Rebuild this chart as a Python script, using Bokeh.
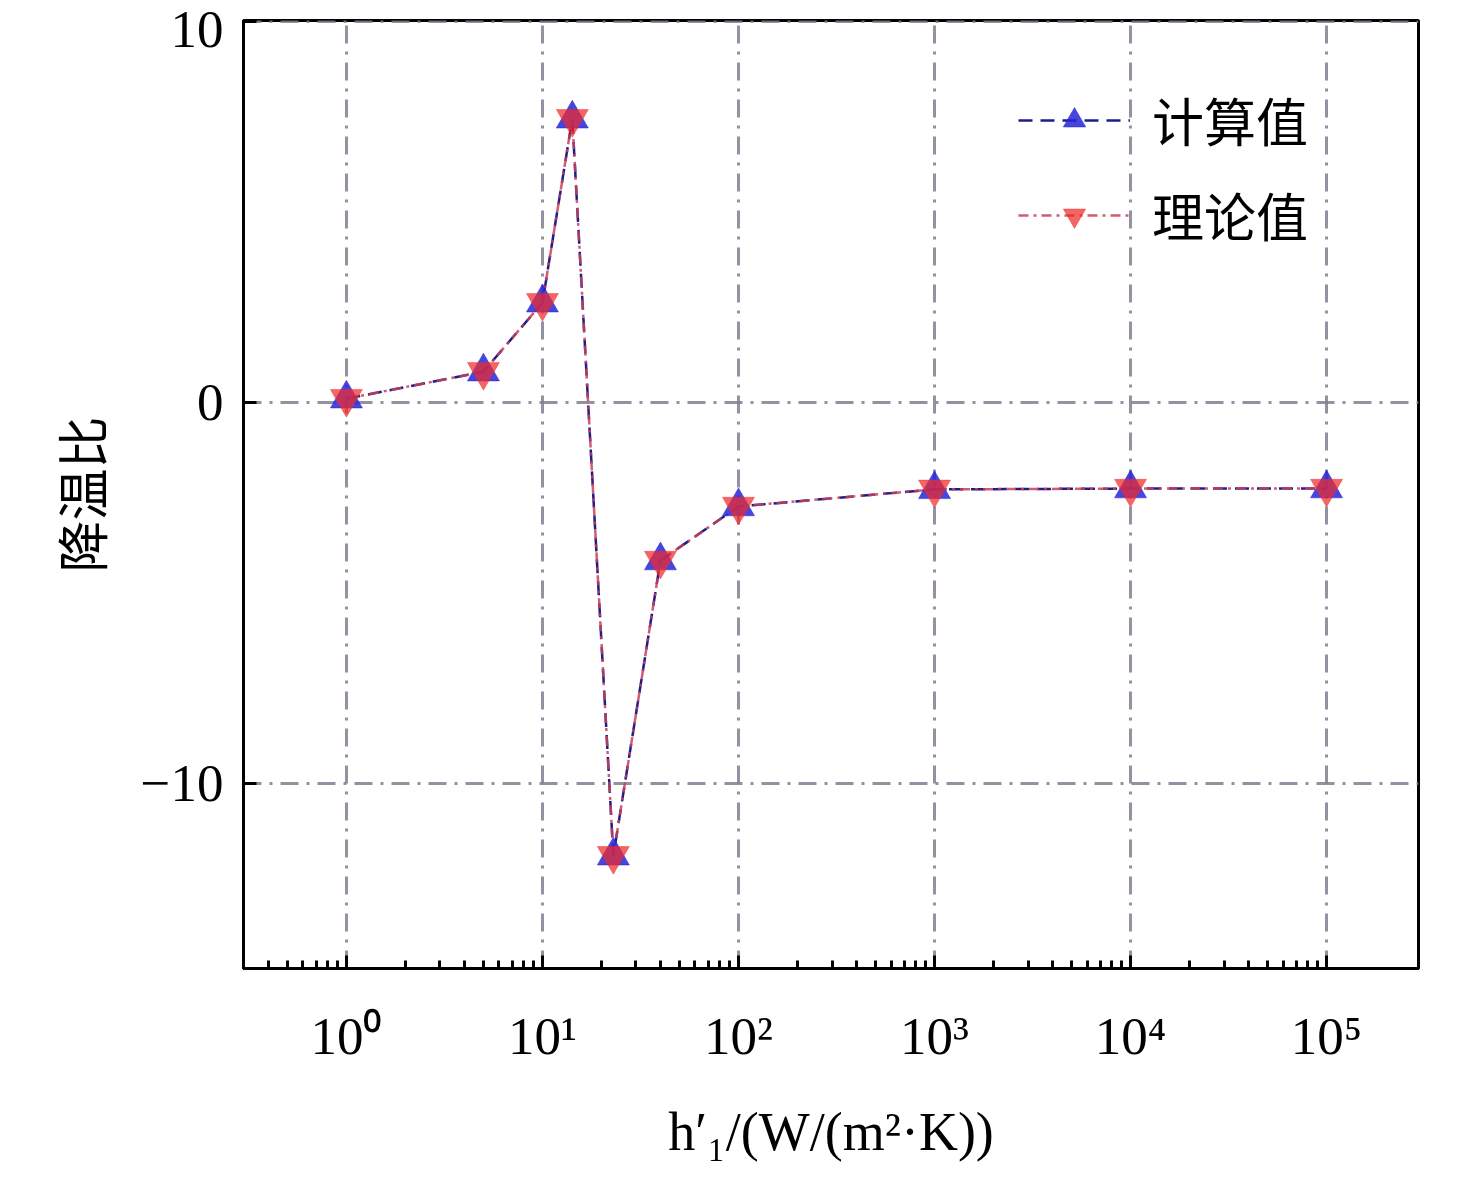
from bokeh.plotting import figure
from bokeh.models import FixedTicker, Legend, LegendItem
from bokeh.embed import file_html
from bokeh.resources import INLINE

# ---- data ----
h_values = [1, 5, 10, 14.2, 23, 40, 100, 1000, 10000, 100000]
calc_values = [0.10, 0.81, 2.62, 7.45, -11.9, -4.15, -2.73, -2.28, -2.26, -2.26]
theory_values = [0.10, 0.81, 2.62, 7.45, -11.9, -4.15, -2.73, -2.28, -2.26, -2.26]
x_major = [1, 10, 100, 1000, 10000, 100000]
x_labels = ["10⁰", "10¹", "10²", "10³", "10⁴", "10⁵"]
y_major = [-10, 0, 10]
y_labels = ["−10", "0", "10"]
series_names = ["计算值", "理论值"]
x_title = "h′₁/(W/(m²·K))"
y_title = "降温比"

x_min, x_max = 10 ** -0.525, 10 ** 5.469
y_min, y_max = -14.86, 10.03
x_minor = [m * 10.0 ** k for k in range(-1, 5) for m in range(2, 10)]
# the top label sits slightly below its tick (as in the reference)
y_label_pos = [-10, 0, 9.79]

p = figure(
    x_axis_type="log",
    x_range=(x_min, x_max),
    y_range=(y_min, y_max),
    frame_width=1175, frame_height=948,
    min_border_left=243, min_border_top=20, min_border_right=40, min_border_bottom=195,
    output_backend="svg", toolbar_location=None,
    background_fill_color="white", border_fill_color="white",
)
p.outline_line_color = "black"
p.outline_line_width = 3

# axes
xa = p.xaxis[0]
xa.ticker = FixedTicker(ticks=x_major, minor_ticks=x_minor)
xa.major_label_overrides = {t: l for t, l in zip(x_major, x_labels)}
ya = p.yaxis[0]
# labels on "major" ticks (no tick marks drawn), tick marks drawn as "minor" ticks
ya.ticker = FixedTicker(ticks=y_label_pos, minor_ticks=y_major)
ya.major_label_overrides = {t: l for t, l in zip(y_label_pos, y_labels)}

for ax in (xa, ya):
    ax.axis_line_color = "black"
    ax.axis_line_width = 3
    ax.major_tick_line_color = "black"
    ax.major_tick_line_width = 3
    ax.major_tick_in = 13
    ax.major_tick_out = 0
    ax.minor_tick_line_color = "black"
    ax.minor_tick_line_width = 3
    ax.minor_tick_in = 8
    ax.minor_tick_out = 0
    ax.major_label_text_font = "Liberation Serif"
    ax.major_label_text_font_size = "53px"
    ax.major_label_text_color = "black"

ya.major_tick_in = 0
ya.minor_tick_in = 13

xa.major_label_standoff = 38
xa.axis_label = x_title
xa.axis_label_text_font = "Liberation Serif"
xa.axis_label_text_font_style = "normal"
xa.axis_label_text_font_size = "54px"
xa.axis_label_text_color = "black"
xa.axis_label_standoff = 34

ya.major_label_standoff = 20
ya.axis_label = y_title
ya.axis_label_text_font = "Noto Sans CJK SC"
ya.axis_label_text_font_style = "normal"
ya.axis_label_text_font_size = "52px"
ya.axis_label_text_color = "black"
ya.axis_label_standoff = 20

# grid
for g in (p.xgrid[0], p.ygrid[0]):
    g.grid_line_color = "#7f7f8f"
    g.grid_line_width = 3
    g.grid_line_dash = "18 8 3 8"
    g.grid_line_alpha = 0.85
p.xgrid[0].ticker = FixedTicker(ticks=x_major)
p.ygrid[0].ticker = FixedTicker(ticks=y_major)

# series
l1 = p.line(h_values, calc_values, line_color="#1c1c8c", line_width=2.5, line_dash="14 8")
l2 = p.line(h_values, theory_values, line_color="#c8405a", line_width=2.5, line_dash="10 5 3 5", line_alpha=0.85)
m1 = p.scatter(h_values, calc_values, marker="triangle", size=32,
               fill_color="#2626d8", fill_alpha=0.85, line_color="#2626d8", line_alpha=0.5)
m2 = p.scatter(h_values, theory_values, marker="inverted_triangle", size=32,
               fill_color="#f02a2a", fill_alpha=0.72, line_color="#f02a2a", line_alpha=0.4)

legend = Legend(
    items=[LegendItem(label=series_names[0], renderers=[l1, m1]),
           LegendItem(label=series_names[1], renderers=[l2, m2])],
    location=(775, 716),
    label_text_font="Noto Sans CJK SC",
    label_text_font_size="52px",
    label_text_color="black",
    glyph_width=112, glyph_height=56,
    label_standoff=22, spacing=20, padding=0, margin=0,
    border_line_color=None, background_fill_alpha=0,
)
p.add_layout(legend)

open("out.html", "w").write(file_html(p, INLINE))
